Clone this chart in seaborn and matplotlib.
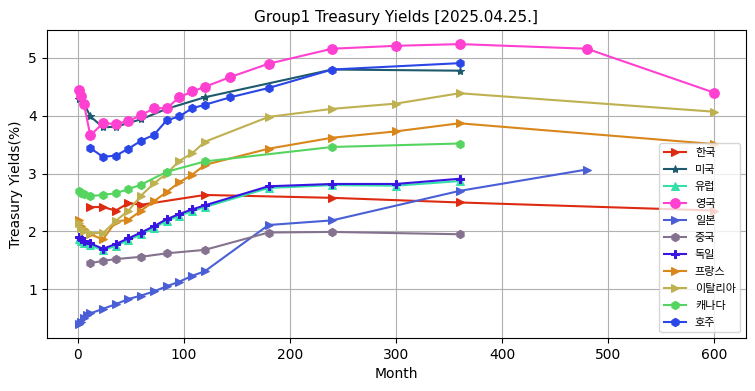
import matplotlib
matplotlib.use('Agg')
import matplotlib.pyplot as plt
import seaborn as sns

plt.rcParams['font.family'] = ['DejaVu Sans', 'Noto Sans CJK KR']

# ---------------- 데이터 (월, 수익률) ----------------
kr_m = [12, 24, 36, 48, 60, 120, 240, 360, 600]
kr_y = [2.42, 2.42, 2.36, 2.49, 2.46, 2.63, 2.58, 2.50, 2.36]

us_m = [1, 3, 6, 12, 24, 36, 60, 84, 120, 240, 360]
us_y = [4.29, 4.30, 4.22, 3.99, 3.80, 3.81, 3.94, 4.12, 4.32, 4.80, 4.78]

de_m = [1, 3, 6, 12, 24, 36, 48, 60, 72, 84, 96, 108, 120, 180, 240, 300, 360]
de_y = [1.90, 1.86, 1.83, 1.79, 1.70, 1.78, 1.88, 1.98, 2.09, 2.21, 2.30, 2.38, 2.45, 2.78, 2.82, 2.82, 2.91]
eu_y = [1.87, 1.83, 1.80, 1.76, 1.67, 1.75, 1.85, 1.95, 2.06, 2.18, 2.27, 2.35, 2.42, 2.75, 2.80, 2.79, 2.87]

uk_m = [1, 3, 6, 12, 24, 36, 48, 60, 72, 84, 96, 108, 120, 144, 180, 240, 300, 360, 480, 600]
uk_y = [4.45, 4.35, 4.21, 3.66, 3.87, 3.86, 3.91, 4.01, 4.13, 4.13, 4.32, 4.42, 4.50, 4.67, 4.90, 5.16, 5.21, 5.24, 5.16, 4.40]

jp_m = [1, 3, 6, 9, 12, 24, 36, 48, 60, 72, 84, 96, 108, 120, 180, 240, 360, 480]
jp_y = [0.40, 0.43, 0.50, 0.55, 0.58, 0.66, 0.74, 0.83, 0.89, 0.96, 1.05, 1.13, 1.23, 1.31, 2.11, 2.19, 2.70, 3.07]

cn_m = [12, 24, 36, 60, 84, 120, 180, 240, 360]
cn_y = [1.45, 1.49, 1.52, 1.56, 1.62, 1.68, 1.98, 1.99, 1.95]

fr_m = [1, 3, 6, 12, 24, 36, 48, 60, 72, 84, 96, 108, 120, 180, 240, 300, 360, 600]
fr_y = [2.20, 2.10, 2.04, 1.95, 1.86, 2.17, 2.20, 2.36, 2.52, 2.68, 2.85, 2.98, 3.15, 3.43, 3.62, 3.73, 3.87, 3.51]

it_m = [1, 3, 6, 12, 24, 36, 48, 60, 72, 84, 96, 108, 120, 180, 240, 300, 360, 600]
it_y = [2.15, 2.05, 2.00, 1.97, 1.97, 2.18, 2.36, 2.62, 2.83, 3.00, 3.22, 3.35, 3.55, 3.98, 4.12, 4.21, 4.39, 4.07]

ca_m = [1, 3, 6, 12, 24, 36, 48, 60, 84, 120, 240, 360]
ca_y = [2.69, 2.66, 2.64, 2.61, 2.63, 2.66, 2.73, 2.81, 3.03, 3.21, 3.46, 3.52]

au_m = [12, 24, 36, 48, 60, 72, 84, 96, 108, 120, 144, 180, 240, 360]
au_y = [3.44, 3.29, 3.31, 3.43, 3.57, 3.67, 3.92, 3.99, 4.13, 4.19, 4.32, 4.48, 4.80, 4.91]

# (이름, 월, 수익률, 마커, 색)
series = [
    ('한국', kr_m, kr_y, '>', '#dd2a10'),
    ('미국', us_m, us_y, '*', '#1d5a6e'),
    ('유럽', de_m, eu_y, '^', '#35e0a8'),
    ('영국', uk_m, uk_y, 'o', '#ff40d0'),
    ('일본', jp_m, jp_y, '>', '#4a5fd6'),
    ('중국', cn_m, cn_y, 'h', '#85728f'),
    ('독일', de_m, de_y, 'P', '#3a14e0'),
    ('프랑스', fr_m, fr_y, '>', '#d9861a'),
    ('이탈리아', it_m, it_y, '>', '#bfb050'),
    ('캐나다', ca_m, ca_y, 'h', '#55d45f'),
    ('호주', au_m, au_y, 'h', '#2a46e6'),
]

# ---------------- 그래프 ----------------
fig, ax = plt.subplots(figsize=(7.55, 3.91), dpi=100)

for name, m, y, mk, c in series:
    sns.lineplot(x=m, y=y, marker=mk, color=c, label=name, ax=ax,
                 markeredgecolor=c, markersize=7 if mk == 'o' else 6)

ax.set_title("Group1 Treasury Yields [2025.04.25.]", fontsize=11)
ax.set_xlabel("Month")
ax.set_ylabel("Treasury Yields(%)")
ax.grid(True)
ax.legend(loc='lower right', prop={'family': ['Noto Sans CJK KR'], 'size': 8},
          labelspacing=0.63)

fig.subplots_adjust(left=0.062, right=0.988, top=0.923, bottom=0.136)
plt.savefig('out.png')
